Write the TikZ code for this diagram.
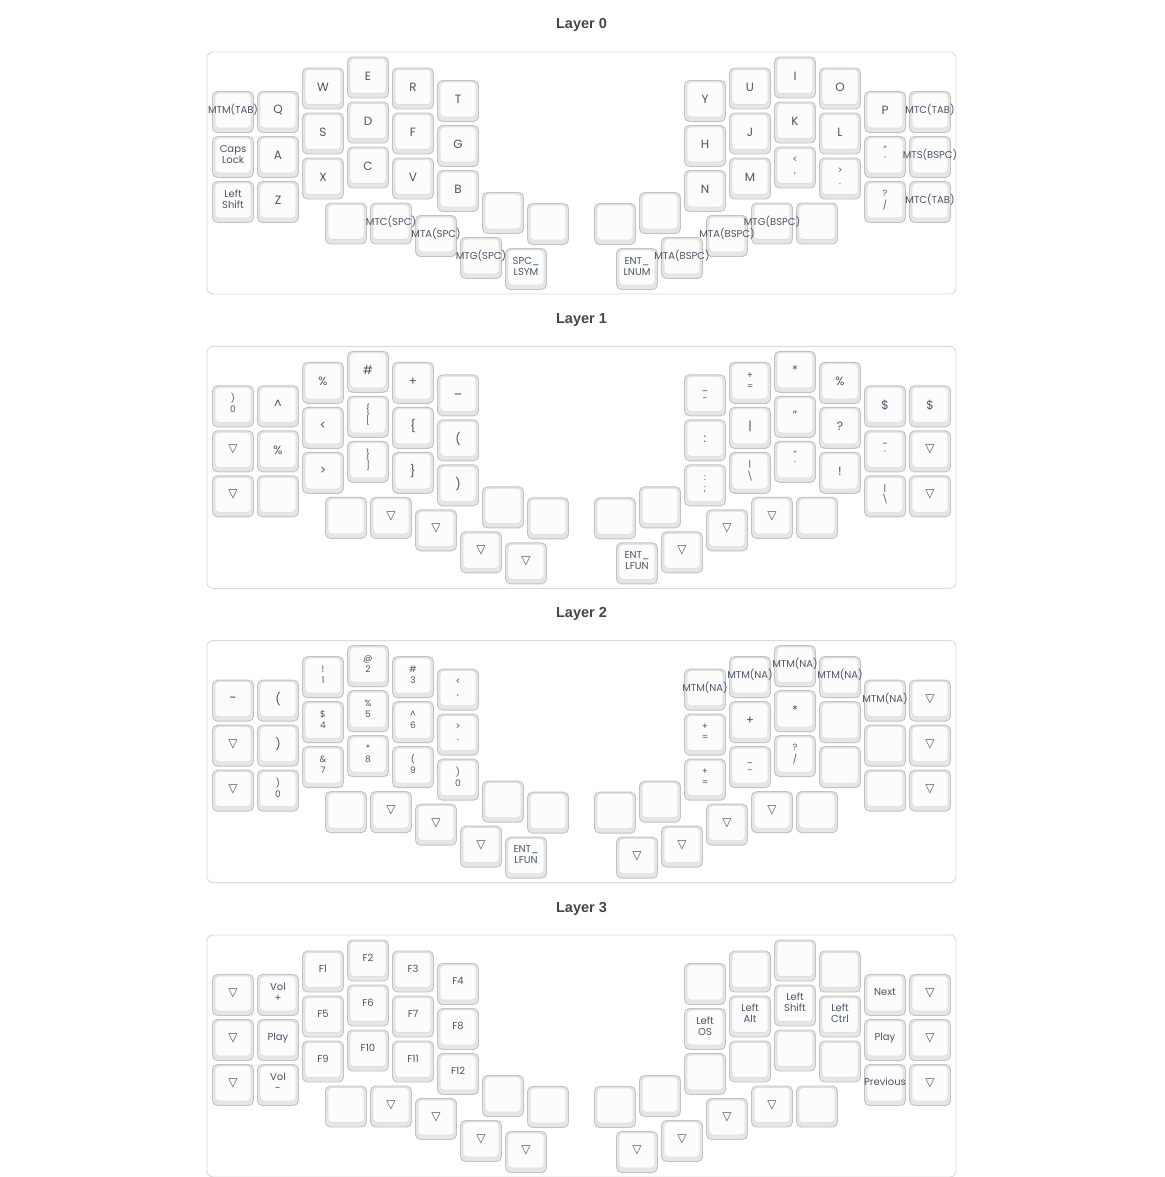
\documentclass[tikz,border=0pt]{standalone}
\usepackage{fontspec}
\setmainfont{Poppins}
\newfontfamily\trifont{DejaVu Sans}
\newfontfamily\headfont{Liberation Sans}
\usetikzlibrary{positioning}
\pgfdeclarelayer{caps}
\pgfsetlayers{caps,main}

\definecolor{capedge}{HTML}{C2C2C2}
\definecolor{capside}{HTML}{E6E6E6}
\definecolor{captop}{HTML}{FCFCFC}
\definecolor{capline}{HTML}{DDDDDD}
\definecolor{legendtext}{HTML}{4A5568}
\definecolor{boxedge}{HTML}{DADADA}
\definecolor{titletext}{HTML}{454545}

\tikzstyle{keycap}     = [rectangle, rounded corners=5pt, minimum width=41pt, minimum height=41pt, inner sep=0pt, draw=capedge, line width=0.9pt, fill=capside,
                          path picture={\draw[draw=capline, fill=captop, line width=0.6pt, rounded corners=4pt]
                            ([xshift=2.5pt,yshift=4.5pt]path picture bounding box.south west) rectangle
                            ([xshift=-2.5pt,yshift=-1.5pt]path picture bounding box.north east);}]
\tikzstyle{legend}     = [inner sep=0pt, text=legendtext, font=\fontsize{12}{14}\selectfont]
\tikzstyle{layerbox}   = [draw=boxedge, line width=0.9pt, rounded corners=6pt, minimum width=749pt, minimum height=242pt, inner sep=0pt]
\tikzstyle{layertitle} = [text=titletext, font=\headfont\bfseries\fontsize{14.5}{16}\selectfont, anchor=base]

% legend sizes
\newcommand{\ks}[1]{{\fontsize{10}{11}\selectfont\begin{tabular}{@{}c@{}}#1\end{tabular}}}
\newcommand{\kp}[1]{{\fontsize{9}{11}\selectfont\begin{tabular}{@{}c@{}}#1\end{tabular}}}
\newcommand{\tri}{{\trifont\fontsize{12}{14}\selectfont ▽}}

% one half of a layer: x/y/legend
\newcommand{\keyset}[2]{%
  \foreach \kx/\ky/\lbl [count=\kn] in {#2} {%
    \begin{pgfonlayer}{caps}
      \node[keycap] (key#1\kn) at (\kx,\ky) {};
    \end{pgfonlayer}
    \node[legend] (leg#1\kn) at ([yshift=1.5pt]key#1\kn.center) {\lbl};
  }}

\begin{document}
\begin{tikzpicture}[x=1pt, y=-1pt]
\useasboundingbox (0,0) rectangle (1164,1177);

\foreach \k in {0,...,3} {
  \node[layerbox] (box\k) at (581.5,173+294.33*\k) {};
  \node[layertitle] (title\k) at (581.5,29+294.33*\k) {Layer \k};
}

% Layer 0
\keyset{0l}{233/112/{\ks{MTM(TAB)}}, 233/157/{\ks{Caps\\Lock}}, 233/202/{\ks{Left\\Shift}},
  278/112/Q, 278/157/A, 278/202/Z,
  323/88.5/W, 323/133.5/S, 323/178.5/X,
  368/77.5/E, 368/122.5/D, 368/167.5/C,
  413/88.5/R, 413/133.5/F, 413/178.5/V,
  458/101/T, 458/146/G, 458/191/B,
  346/223.5/{}, 391/223.5/{\ks{MTC(SPC)}}, 436/236/{\ks{MTA(SPC)}}, 481/258/{\ks{MTG(SPC)}},
  526/269/{\ks{SPC\_\\LSYM}}, 503/213/{}, 548/224/{}}
\keyset{0r}{930/112/{\ks{MTC(TAB)}}, 930/157/{\ks{MTS(BSPC)}}, 930/202/{\ks{MTC(TAB)}},
  885/112/P, 885/157/{\kp{"\\\textquotesingle}}, 885/202/{\kp{?\\/}},
  840/88.5/O, 840/133.5/L, 840/178.5/{\kp{>\\.}},
  795/77.5/I, 795/122.5/K, 795/167.5/{\kp{<\\,}},
  750/88.5/U, 750/133.5/J, 750/178.5/M,
  705/101/Y, 705/146/H, 705/191/N,
  615/224/{}, 660/213/{}, 637/269/{\ks{ENT\_\\LNUM}}, 817/223.5/{},
  682/258/{\ks{MTA(BSPC)}}, 727/236/{\ks{MTA(BSPC)}}, 772/223.5/{\ks{MTG(BSPC)}}}

% Layer 1
\begin{scope}[shift={(0,294.33)}]
\keyset{1l}{233/112/{\kp{)\\0}}, 233/157/\tri, 233/202/\tri,
  278/112/\textasciicircum, 278/157/\%, 278/202/{},
  323/88.5/\%, 323/133.5/<, 323/178.5/>,
  368/77.5/\#, 368/122.5/{\kp{\{\\{[}}}, 368/167.5/{\kp{\}\\]}},
  413/88.5/+, 413/133.5/{\{}, 413/178.5/{\}},
  458/101/\_, 458/146/{(}, 458/191/{)},
  346/223.5/{}, 391/223.5/\tri, 436/236/\tri, 481/258/\tri,
  526/269/\tri, 503/213/{}, 548/224/{}}
\keyset{1r}{930/112/\$, 930/157/\tri, 930/202/\tri,
  885/112/\$, 885/157/{\kp{\textasciitilde\\\textasciigrave}}, 885/202/{\kp{|\\\textbackslash}},
  840/88.5/\%, 840/133.5/?, 840/178.5/!,
  795/77.5/*, 795/122.5/{"}, 795/167.5/{\kp{"\\\textquotesingle}},
  750/88.5/{\kp{+\\=}}, 750/133.5/|, 750/178.5/{\kp{|\\\textbackslash}},
  705/101/{\kp{\_\\-}}, 705/146/:, 705/191/{\kp{:\\;}},
  615/224/{}, 660/213/{}, 637/269/{\ks{ENT\_\\LFUN}}, 817/223.5/{},
  682/258/\tri, 727/236/\tri, 772/223.5/\tri}
\end{scope}

% Layer 2
\begin{scope}[shift={(0,588.67)}]
\keyset{2l}{233/112/\textasciitilde, 233/157/\tri, 233/202/\tri,
  278/112/{(}, 278/157/{)}, 278/202/{\kp{)\\0}},
  323/88.5/{\kp{!\\1}}, 323/133.5/{\kp{\$\\4}}, 323/178.5/{\kp{\&\\7}},
  368/77.5/{\kp{@\\2}}, 368/122.5/{\kp{\%\\5}}, 368/167.5/{\kp{*\\8}},
  413/88.5/{\kp{\#\\3}}, 413/133.5/{\kp{\textasciicircum\\6}}, 413/178.5/{\kp{(\\9}},
  458/101/{\kp{<\\,}}, 458/146/{\kp{>\\.}}, 458/191/{\kp{)\\0}},
  346/223.5/{}, 391/223.5/\tri, 436/236/\tri, 481/258/\tri,
  526/269/{\ks{ENT\_\\LFUN}}, 503/213/{}, 548/224/{}}
\keyset{2r}{930/112/\tri, 930/157/\tri, 930/202/\tri,
  885/112/{\ks{MTM(NA)}}, 885/157/{}, 885/202/{},
  840/88.5/{\ks{MTM(NA)}}, 840/133.5/{}, 840/178.5/{},
  795/77.5/{\ks{MTM(NA)}}, 795/122.5/*, 795/167.5/{\kp{?\\/}},
  750/88.5/{\ks{MTM(NA)}}, 750/133.5/+, 750/178.5/{\kp{\_\\-}},
  705/101/{\ks{MTM(NA)}}, 705/146/{\kp{+\\=}}, 705/191/{\kp{+\\=}},
  615/224/{}, 660/213/{}, 637/269/\tri, 817/223.5/{},
  682/258/\tri, 727/236/\tri, 772/223.5/\tri}
\end{scope}

% Layer 3
\begin{scope}[shift={(0,883)}]
\keyset{3l}{233/112/\tri, 233/157/\tri, 233/202/\tri,
  278/112/{\ks{Vol\\+}}, 278/157/{\ks{Play}}, 278/202/{\ks{Vol\\-}},
  323/88.5/{\ks{F1}}, 323/133.5/{\ks{F5}}, 323/178.5/{\ks{F9}},
  368/77.5/{\ks{F2}}, 368/122.5/{\ks{F6}}, 368/167.5/{\ks{F10}},
  413/88.5/{\ks{F3}}, 413/133.5/{\ks{F7}}, 413/178.5/{\ks{F11}},
  458/101/{\ks{F4}}, 458/146/{\ks{F8}}, 458/191/{\ks{F12}},
  346/223.5/{}, 391/223.5/\tri, 436/236/\tri, 481/258/\tri,
  526/269/\tri, 503/213/{}, 548/224/{}}
\keyset{3r}{930/112/\tri, 930/157/\tri, 930/202/\tri,
  885/112/{\ks{Next}}, 885/157/{\ks{Play}}, 885/202/{\ks{Previous}},
  840/88.5/{}, 840/133.5/{\ks{Left\\Ctrl}}, 840/178.5/{},
  795/77.5/{}, 795/122.5/{\ks{Left\\Shift}}, 795/167.5/{},
  750/88.5/{}, 750/133.5/{\ks{Left\\Alt}}, 750/178.5/{},
  705/101/{}, 705/146/{\ks{Left\\OS}}, 705/191/{},
  615/224/{}, 660/213/{}, 637/269/\tri, 817/223.5/{},
  682/258/\tri, 727/236/\tri, 772/223.5/\tri}
\end{scope}

\end{tikzpicture}
\end{document}
